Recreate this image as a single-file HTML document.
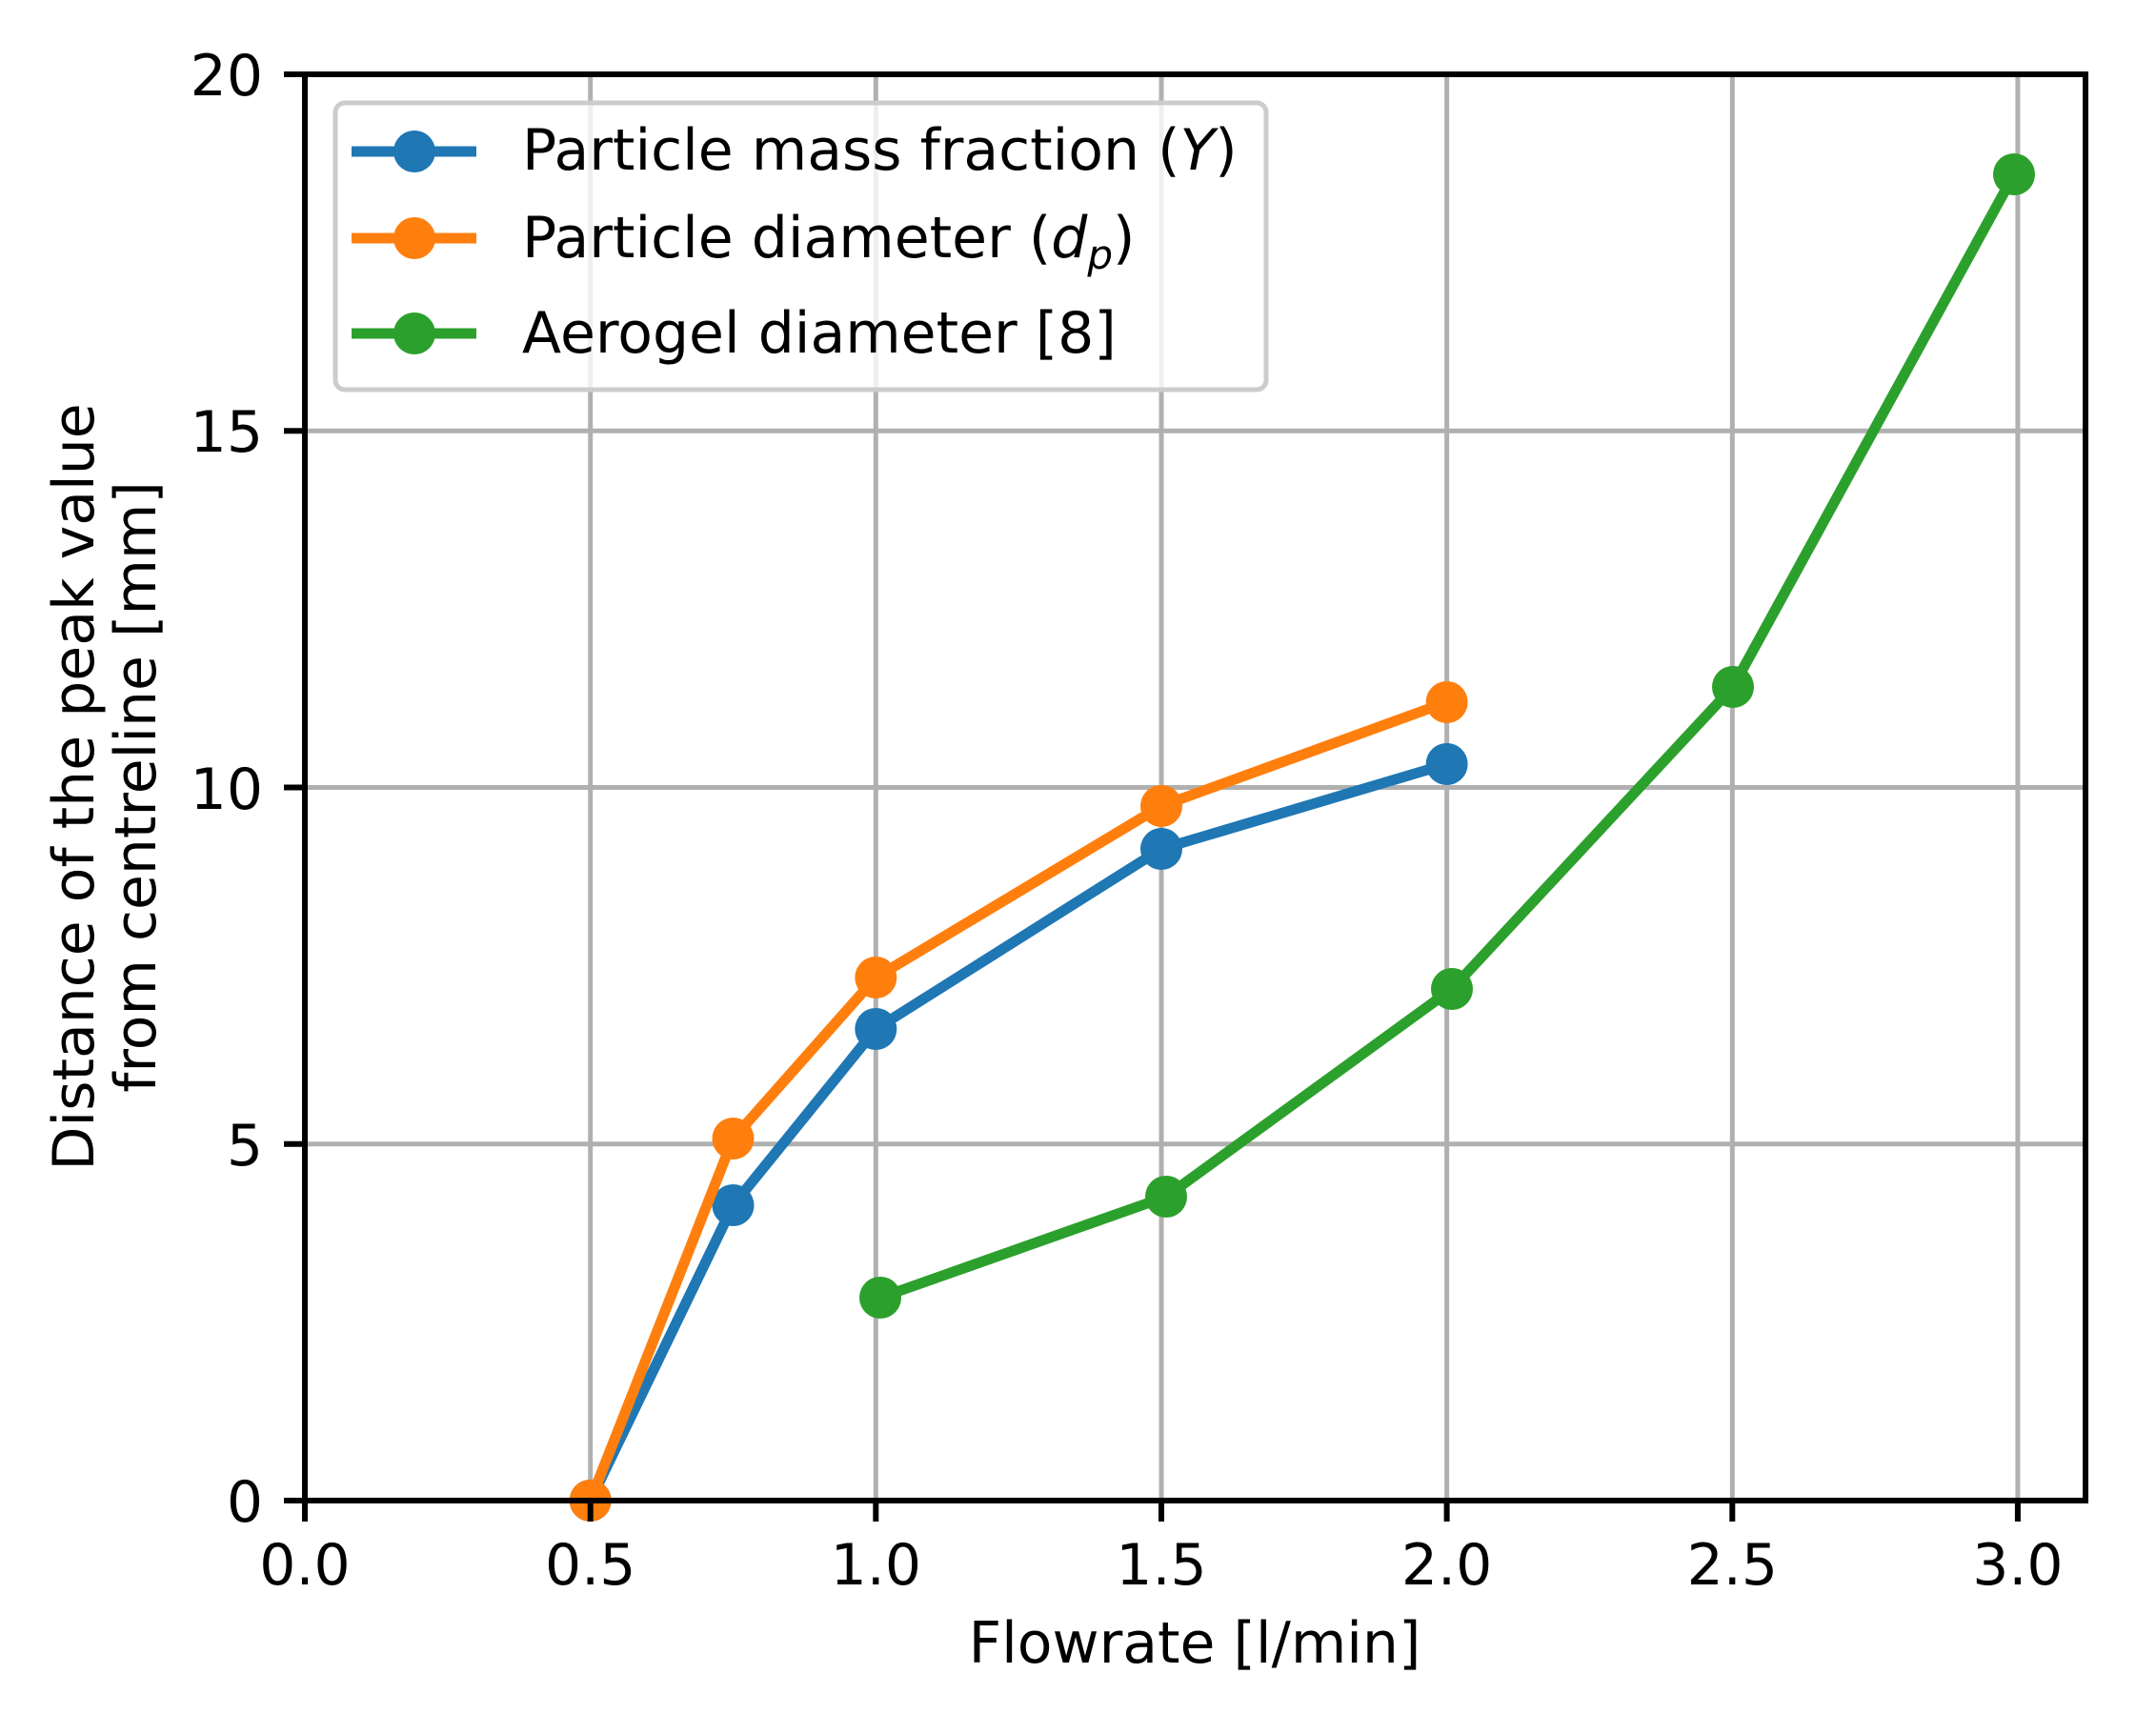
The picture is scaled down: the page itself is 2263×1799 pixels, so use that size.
<!DOCTYPE html>
<html><head><meta charset="utf-8"><style>html,body{margin:0;padding:0;background:#fff}svg{display:block}</style></head>
<body>
<svg width="2263" height="1799" viewBox="0 0 2263 1799" xmlns="http://www.w3.org/2000/svg" font-family="'DejaVu Sans','Liberation Sans',sans-serif">
<rect width="2263" height="1799" fill="#fff"/>
<g stroke="#b0b0b0" stroke-width="5">
<line x1="320" y1="78" x2="320" y2="1575"/>
<line x1="619.7" y1="78" x2="619.7" y2="1575"/>
<line x1="919.3" y1="78" x2="919.3" y2="1575"/>
<line x1="1219" y1="78" x2="1219" y2="1575"/>
<line x1="1518.6" y1="78" x2="1518.6" y2="1575"/>
<line x1="1818.3" y1="78" x2="1818.3" y2="1575"/>
<line x1="2117.9" y1="78" x2="2117.9" y2="1575"/>
<line x1="320" y1="1200.75" x2="2189" y2="1200.75"/>
<line x1="320" y1="826.5" x2="2189" y2="826.5"/>
<line x1="320" y1="452.25" x2="2189" y2="452.25"/>
</g>
<polyline fill="none" stroke="#1f77b4" stroke-width="11" stroke-linejoin="round" stroke-linecap="round" points="619.7,1575 769.5,1265 919.3,1080 1219,891 1518.6,802"/>
<g fill="#1f77b4"><circle cx="619.7" cy="1575" r="22"/><circle cx="769.5" cy="1265" r="22"/><circle cx="919.3" cy="1080" r="22"/><circle cx="1219" cy="891" r="22"/><circle cx="1518.6" cy="802" r="22"/></g>
<polyline fill="none" stroke="#ff7f0e" stroke-width="11" stroke-linejoin="round" stroke-linecap="round" points="619.7,1575 769.5,1195 919.3,1026 1219,846 1518.6,737"/>
<g fill="#ff7f0e"><circle cx="619.7" cy="1575" r="22"/><circle cx="769.5" cy="1195" r="22"/><circle cx="919.3" cy="1026" r="22"/><circle cx="1219" cy="846" r="22"/><circle cx="1518.6" cy="737" r="22"/></g>
<polyline fill="none" stroke="#2ca02c" stroke-width="11" stroke-linejoin="round" stroke-linecap="round" points="924,1362 1224,1256 1524,1038 1819,721 2114,183"/>
<g fill="#2ca02c"><circle cx="924" cy="1362" r="22"/><circle cx="1224" cy="1256" r="22"/><circle cx="1524" cy="1038" r="22"/><circle cx="1819" cy="721" r="22"/><circle cx="2114" cy="183" r="22"/></g>
<rect x="320" y="78" width="1869" height="1497" fill="none" stroke="#000" stroke-width="6"/>
<g stroke="#000" stroke-width="6">
<line x1="320" y1="1575" x2="320" y2="1597"/>
<line x1="619.7" y1="1575" x2="619.7" y2="1597"/>
<line x1="919.3" y1="1575" x2="919.3" y2="1597"/>
<line x1="1219" y1="1575" x2="1219" y2="1597"/>
<line x1="1518.6" y1="1575" x2="1518.6" y2="1597"/>
<line x1="1818.3" y1="1575" x2="1818.3" y2="1597"/>
<line x1="2117.9" y1="1575" x2="2117.9" y2="1597"/>
<line x1="298" y1="1575" x2="320" y2="1575"/>
<line x1="298" y1="1200.75" x2="320" y2="1200.75"/>
<line x1="298" y1="826.5" x2="320" y2="826.5"/>
<line x1="298" y1="452.25" x2="320" y2="452.25"/>
<line x1="298" y1="78" x2="320" y2="78"/>
</g>
<g font-size="60" fill="#000" text-anchor="middle">
<text x="320" y="1663">0.0</text>
<text x="619.7" y="1663">0.5</text>
<text x="919.3" y="1663">1.0</text>
<text x="1219" y="1663">1.5</text>
<text x="1518.6" y="1663">2.0</text>
<text x="1818.3" y="1663">2.5</text>
<text x="2117.9" y="1663">3.0</text>
<text x="1254" y="1745">Flowrate [l/min]</text>
</g>
<g font-size="60" fill="#000" text-anchor="end">
<text x="276" y="1597">0</text>
<text x="276" y="1223">5</text>
<text x="276" y="849">10</text>
<text x="276" y="474">15</text>
<text x="276" y="100">20</text>
</g>
<g font-size="60" fill="#000" text-anchor="middle">
<text transform="translate(98,826) rotate(-90)">Distance of the peak value</text>
<text transform="translate(163,826) rotate(-90)">from centreline [mm]</text>
</g>
<rect x="352" y="108" width="977" height="301" rx="10" fill="#fff" fill-opacity="0.8" stroke="#cccccc" stroke-width="5"/>
<g stroke-width="11">
<line x1="369" y1="159" x2="500" y2="159" stroke="#1f77b4"/>
<line x1="369" y1="250" x2="500" y2="250" stroke="#ff7f0e"/>
<line x1="369" y1="350" x2="500" y2="350" stroke="#2ca02c"/>
</g>
<circle cx="435" cy="159" r="22" fill="#1f77b4"/>
<circle cx="435" cy="250" r="22" fill="#ff7f0e"/>
<circle cx="435" cy="350" r="22" fill="#2ca02c"/>
<g font-size="60" fill="#000">
<text x="548" y="178">Particle mass fraction (<tspan font-style="italic">Y</tspan>)</text>
<text x="548" y="270">Particle diameter (<tspan font-style="italic">d</tspan><tspan font-style="italic" font-size="42" dy="12">p</tspan><tspan dy="-12">)</tspan></text>
<text x="548" y="370">Aerogel diameter [8]</text>
</g>
</svg>
</body></html>
